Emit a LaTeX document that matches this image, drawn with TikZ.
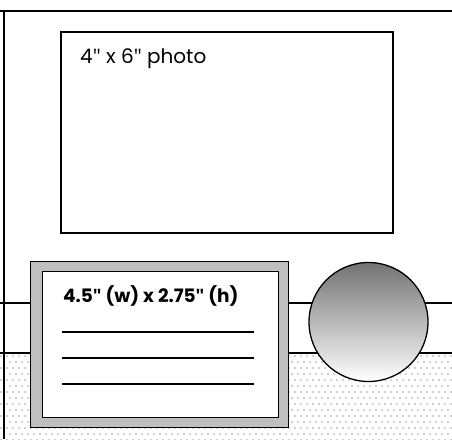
\documentclass[tikz,border=0pt]{standalone}
\usepackage{fontspec}
\setmainfont{Poppins}
\newfontfamily\qfont{Open Sans}
\newcommand{\dq}{{\qfont\char34\relax}}
\begin{document}
\begin{tikzpicture}[x=1pt,y=-1pt,
  rule/.style={line width=1.4pt,draw=black},
  boxline/.style={line width=1.6pt,draw=black},
  dotsq/.style={fill=black!18,draw=none}]
\useasboundingbox (0,0) rectangle (452,439);
\fill[white] (0,0) rectangle (452,439);
% dotted floor
\foreach \r in {0,...,14}{
  \pgfmathsetmacro{\yy}{355+6*\r}
  \pgfmathsetmacro{\off}{mod(\r,2)*3}
  \foreach \c in {0,...,75}{
    \fill[dotsq] ({\off+6*\c},\yy) rectangle ++(1.8,1.8);
  }
}
% wall lines
\coordinate (l1w) at (0,303); \coordinate (l1e) at (452,303);
\coordinate (l2w) at (0,353); \coordinate (l2e) at (452,353);
\coordinate (tw) at (0,11); \coordinate (te) at (452,11);
\coordinate (vt) at (4,11); \coordinate (vb) at (4,439);
\draw[rule] (l1w) -- (l1e);
\draw[rule] (l2w) -- (l2e);
\draw[rule] (tw) -- (te);
\draw[rule] (vt) -- (vb);
% photo
\node[boxline,fill=white,rectangle,inner sep=0pt,minimum width=332pt,minimum height=201pt,anchor=north west] (photo) at (60,31) {};
\node[anchor=base west,inner sep=0pt,font=\fontsize{20}{24}\selectfont] (phototxt) at (80,63) {4\dq{} x 6\dq{} photo};
% frame
\node[draw=black,line width=1.4pt,fill=black!25,rectangle,inner sep=0pt,minimum width=258pt,minimum height=166pt,anchor=north west] (frame) at (30,261) {};
\node[draw=black,line width=1.4pt,fill=white,rectangle,inner sep=0pt,minimum width=236pt,minimum height=146pt,anchor=north west] (card) at (42,271) {};
\node[anchor=base west,inner sep=0pt,font=\fontsize{18.5}{22}\selectfont\bfseries] (cardtxt) at (63,302) {4.5{\bfseries\dq} (w) x 2.75{\bfseries\dq} (h)};
\coordinate (a1) at (62,332); \coordinate (b1) at (254,332);
\coordinate (a2) at (62,358); \coordinate (b2) at (254,358);
\coordinate (a3) at (62,384); \coordinate (b3) at (254,384);
\draw[rule] (a1) -- (b1);
\draw[rule] (a2) -- (b2);
\draw[rule] (a3) -- (b3);
% knob
\node[circle,draw=black,line width=1.3pt,top color=black!55,bottom color=white,minimum size=119pt,inner sep=0pt] (knob) at (368.5,322) {};
\end{tikzpicture}
\end{document}
